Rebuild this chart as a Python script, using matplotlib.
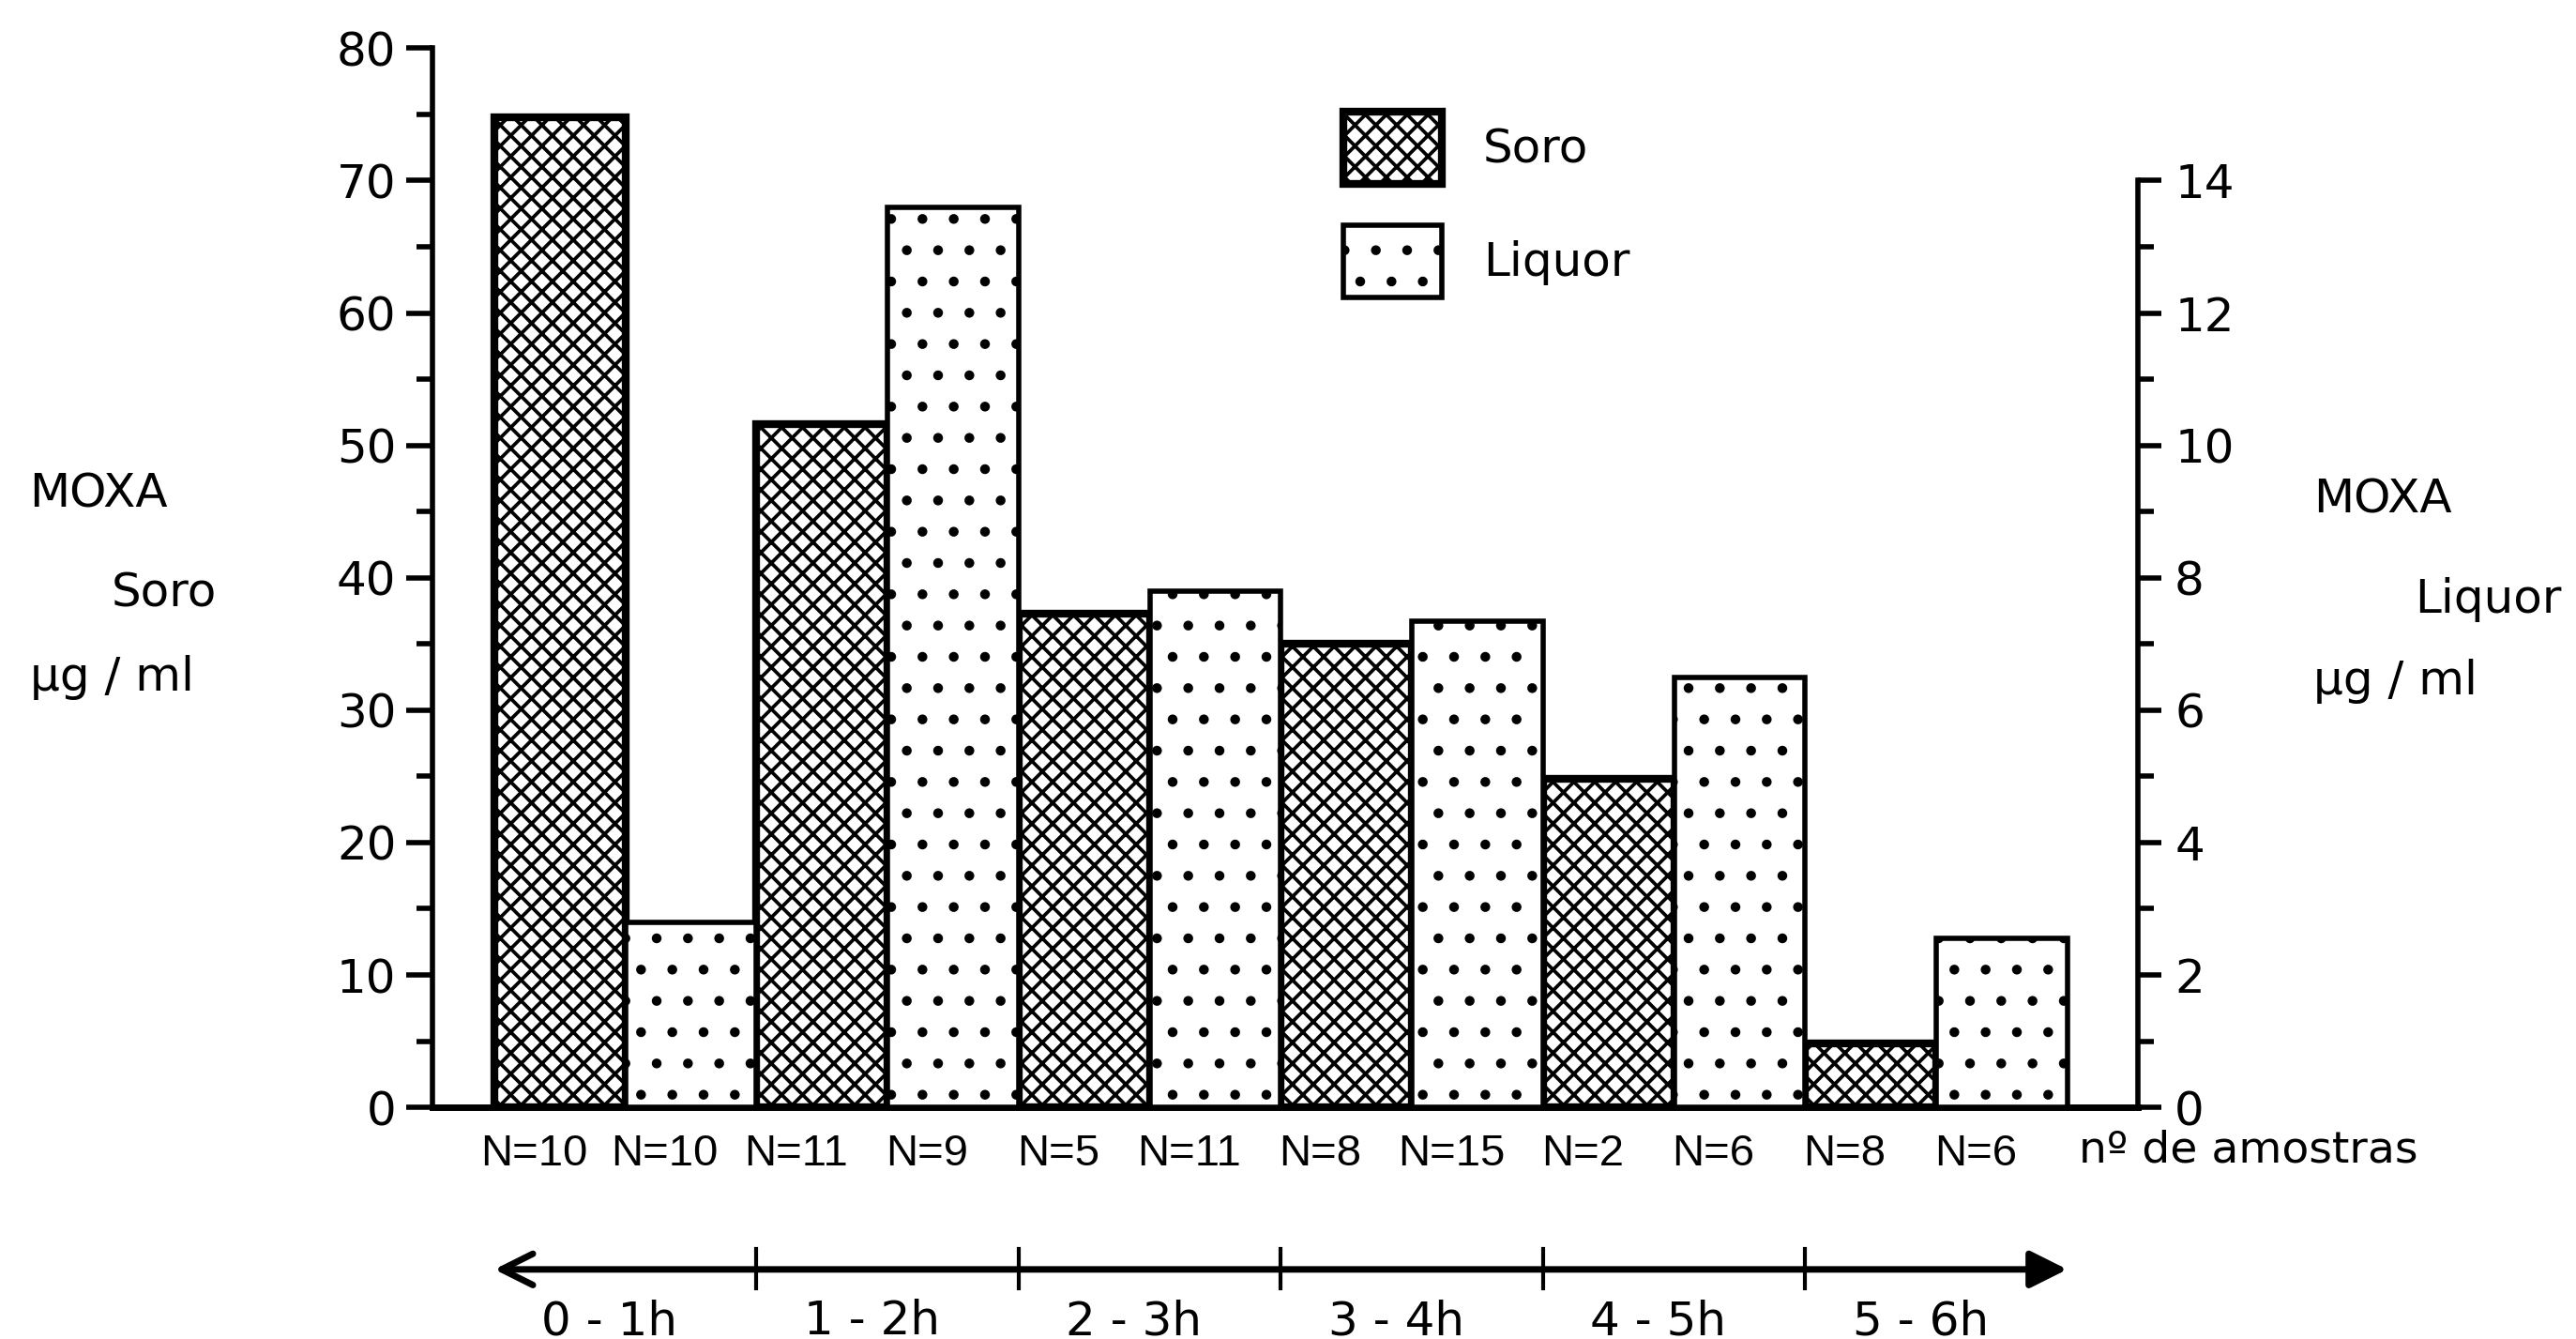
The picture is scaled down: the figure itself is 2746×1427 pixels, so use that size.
import matplotlib.pyplot as plt
import matplotlib.transforms as transforms
import numpy as np

# MOXA levels per time window: serum (left axis) and liquor (right axis), ug/ml
periods = ['0 - 1h', '1 - 2h', '2 - 3h', '3 - 4h', '4 - 5h', '5 - 6h']
soro = [74.8, 51.6, 37.3, 35.0, 24.8, 4.8]
liquor = [2.8, 13.6, 7.8, 7.35, 6.5, 2.55]
n_soro = [10, 11, 5, 8, 2, 8]
n_liquor = [10, 9, 11, 15, 6, 6]

plt.rcParams['font.family'] = 'DejaVu Sans'
plt.rcParams['hatch.linewidth'] = 1.35

fig = plt.figure(figsize=(13.73, 7.135), dpi=200)
ax = fig.add_axes([0.168, 0.173, 0.662, 0.791])
ax2 = ax.twinx()

x_soro = np.arange(len(periods)) * 2
x_liq = x_soro + 1

b1 = ax.bar(x_soro, soro, width=1, color='white', edgecolor='black',
            hatch='xxx', linewidth=3)
b2 = ax2.bar(x_liq, liquor, width=1, color='white', edgecolor='black',
             hatch='.', linewidth=2)

ax.set_xlim(-0.97, 12.04)
ax.set_ylim(0, 80)
ax2.set_ylim(0, 16)

# spines
ax.spines['top'].set_visible(False)
ax.spines['right'].set_visible(False)
ax.spines['left'].set_linewidth(2)
ax.spines['bottom'].set_linewidth(2.5)
for s in ['top', 'left', 'bottom']:
    ax2.spines[s].set_visible(False)
ax2.spines['right'].set_linewidth(2)
ax2.spines['right'].set_bounds(0, 14)

# left axis ticks
ax.set_yticks(range(0, 81, 10))
ax.set_yticks(range(5, 80, 10), minor=True)
ax.tick_params(axis='y', which='major', length=10, width=2, labelsize=18, pad=4)
ax.tick_params(axis='y', which='minor', length=6, width=2)

# right axis ticks
ax2.set_yticks(range(0, 15, 2))
ax2.set_yticks(range(1, 14, 2), minor=True)
ax2.tick_params(axis='y', which='major', length=9, width=2, labelsize=18, pad=5)
ax2.tick_params(axis='y', which='minor', length=6, width=2)

# sample sizes under the bars
n_labels = []
for a, b in zip(n_soro, n_liquor):
    n_labels += ['N=%d' % a, 'N=%d' % b]
ax.set_xticks(np.arange(len(n_labels)) - 0.2)
ax.set_xticklabels(n_labels, family='Liberation Sans', fontsize=17)
ax.tick_params(axis='x', length=0, pad=10)

trans = transforms.blended_transform_factory(ax.transData, ax.transAxes)
ax.text(11.59, -0.041, 'nº de amostras', transform=trans, ha='left',
        va='center', fontsize=17)

# time axis with arrows
y_arrow = -0.153
ax.annotate('', xy=(-0.5, y_arrow), xytext=(5.5, y_arrow), xycoords=trans,
            textcoords=trans, annotation_clip=False,
            arrowprops=dict(arrowstyle='->', lw=2.5, mutation_scale=30,
                            shrinkA=0, shrinkB=0, color='black'))
ax.annotate('', xy=(11.5, y_arrow), xytext=(5.5, y_arrow), xycoords=trans,
            textcoords=trans, annotation_clip=False,
            arrowprops=dict(arrowstyle='-|>', lw=2.5, mutation_scale=30,
                            shrinkA=0, shrinkB=0, color='black'))
for xb in x_soro[1:] - 0.5:
    ax.plot([xb, xb], [-0.134, -0.171], transform=trans, color='black',
            lw=1.5, clip_on=False)
for xc, lab in zip(x_soro + 0.5, periods):
    ax.text(xc - 0.12, -0.202, lab, transform=trans, ha='center', va='center',
            fontsize=18)

# axis titles
fig.text(0.0115, 0.631, 'MOXA', ha='left', va='center', fontsize=18)
fig.text(0.0434, 0.557, 'Soro', ha='left', va='center', fontsize=18)
fig.text(0.0115, 0.494, 'µg / ml', ha='left', va='center', fontsize=18)
fig.text(0.898, 0.627, 'MOXA', ha='left', va='center', fontsize=18)
fig.text(0.9375, 0.552, 'Liquor', ha='left', va='center', fontsize=18)
fig.text(0.898, 0.491, 'µg / ml', ha='left', va='center', fontsize=18)

ax2.legend([b1, b2], ['Soro', 'Liquor'], loc='upper left',
           bbox_to_anchor=(0.5215, 0.9166), bbox_transform=fig.transFigure,
           frameon=False, fontsize=18, handlelength=2.1, handleheight=1.99,
           labelspacing=0.88, handletextpad=0.88, borderpad=0,
           borderaxespad=0)

fig.savefig('out.png', dpi=200)
